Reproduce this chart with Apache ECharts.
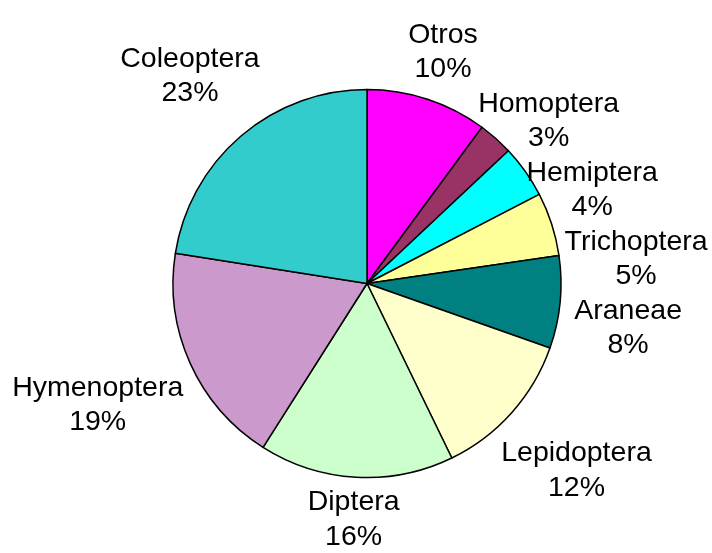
<!DOCTYPE html>
<html><head><meta charset="utf-8">
<script src="https://cdn.jsdelivr.net/npm/echarts@6/dist/echarts.min.js"></script>
<style>html,body{margin:0;padding:0;background:#fff}#chart{width:712px;height:553px}</style>
</head><body><div id="chart"></div>
<script>
const categories = ['Otros', 'Homoptera', 'Hemiptera', 'Trichoptera', 'Araneae', 'Lepidoptera', 'Diptera', 'Hymenoptera', 'Coleoptera'];
const values = [10.1, 2.9, 4.4, 5.3, 7.7, 12.4, 16.2, 18.5, 22.5];
const sliceColors = ['#FF00FF', '#993366', '#00FFFF', '#FFFF99', '#008080', '#FFFFCC', '#CCFFCC', '#CC99CC', '#33CCCC'];

const CX = 367, CY = 283.5, R = 194, GAP = 12, HALF_H = 28;
const total = values.reduce((a, b) => a + b, 0);
const midAngles = [];
let acc = 0;
values.forEach(v => { midAngles.push((acc + v / 2) / total * 360); acc += v; });

const chart = echarts.init(document.getElementById('chart'), null, {renderer: 'canvas'});
chart.setOption({
  animation: false,
  backgroundColor: '#fff',
  series: [{
    type: 'pie',
    center: [CX, CY],
    radius: R,
    startAngle: 90,
    clockwise: true,
    avoidLabelOverlap: false,
    silent: true,
    data: categories.map((c, i) => ({name: c, value: values[i], itemStyle: {color: sliceColors[i]}})),
    itemStyle: {borderColor: '#000', borderWidth: 1.5},
    label: {
      show: true,
      position: 'outside',
      formatter: p => p.name + '\n' + Math.round(p.percent) + '%',
      fontFamily: 'Liberation Sans, Arial, sans-serif',
      fontSize: 28.5,
      lineHeight: 34.5,
      color: '#000',
      align: 'center'
    },
    labelLine: {show: false},
    labelLayout: function (p) {
      const i = p.dataIndex;
      const a = midAngles[i] * Math.PI / 180, s = Math.sin(a), c = Math.cos(a);
      const hw = p.labelRect.width / 2;
      const d = R + GAP + hw * Math.abs(s) + HALF_H * Math.abs(c);
      const o = {x: CX + d * s, y: CY - d * c, align: 'center', verticalAlign: 'middle'};
      if (s > 0) o.moveOverlap = 'shiftY';
      return o;
    }
  }]
});
</script></body></html>
